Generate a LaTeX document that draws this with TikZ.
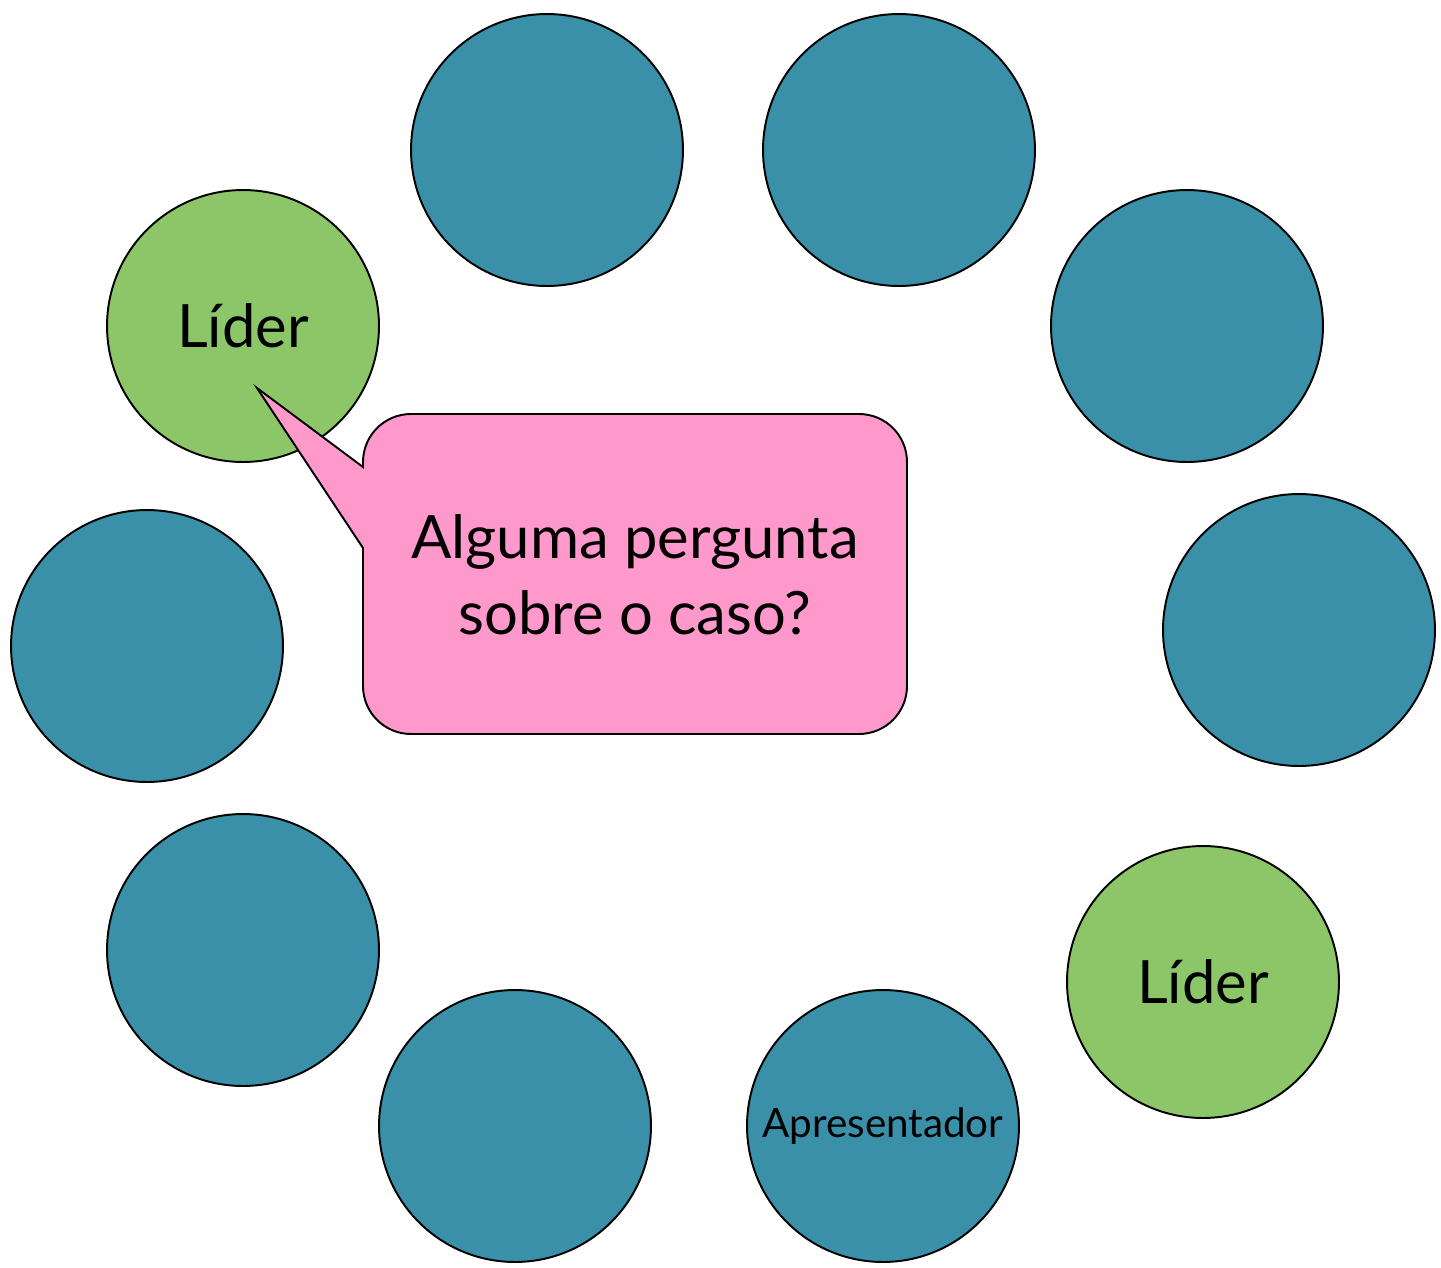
\documentclass[tikz,border=0pt]{standalone}
\usepackage{fontspec}
\setmainfont{Lato}
\definecolor{tealfill}{RGB}{58,144,168}
\definecolor{greenfill}{RGB}{141,198,104}
\definecolor{pinkfill}{RGB}{255,153,204}
\tikzset{
  seat/.style={circle, draw=black, line width=1.1pt, fill=tealfill, minimum size=5.44cm, inner sep=0pt},
  leader/.style={seat, fill=greenfill, font=\fontsize{34}{40}\selectfont},
  callout/.style={draw=black, line width=1.1pt, fill=pinkfill}
}

\begin{document}
\begin{tikzpicture}[x=0.02cm, y=-0.02cm]

    \useasboundingbox (0,0) rectangle (1441,1268);

    % Define nodes
    \node[seat]   (s-top-l)   at (547,150)  {};
    \node[seat]   (s-top-r)   at (899,150)  {};
    \node[seat]   (s-right-1) at (1187,326) {};
    \node[seat]   (s-right-2) at (1299,630) {};
    \node[leader] (lider-r)   at (1203,982) {Líder};
    \node[seat, font=\fontsize{23}{28}\selectfont] (apres) at (883,1126) {Apresentador};
    \node[seat]   (s-bot-l)   at (515,1126) {};
    \node[seat]   (s-left-2)  at (243,950)  {};
    \node[seat]   (s-left-1)  at (147,646)  {};
    \node[leader] (lider-l)   at (243,326)  {Líder};

    % Speech bubble
    \coordinate (tip) at (257,388);
    \draw[callout] (tip) -- (363,467) -- (363,462) arc[start angle=180, end angle=90, radius=0.96cm]
      -- (859,414) arc[start angle=90, end angle=0, radius=0.96cm]
      -- (907,686) arc[start angle=0, end angle=-90, radius=0.96cm]
      -- (411,734) arc[start angle=270, end angle=180, radius=0.96cm]
      -- (363,548) -- cycle;
    \node[align=center, font=\fontsize{34}{43}\selectfont] (question) at (635,575)
      {Alguma pergunta\\sobre o caso?};

\end{tikzpicture}
\end{document}
